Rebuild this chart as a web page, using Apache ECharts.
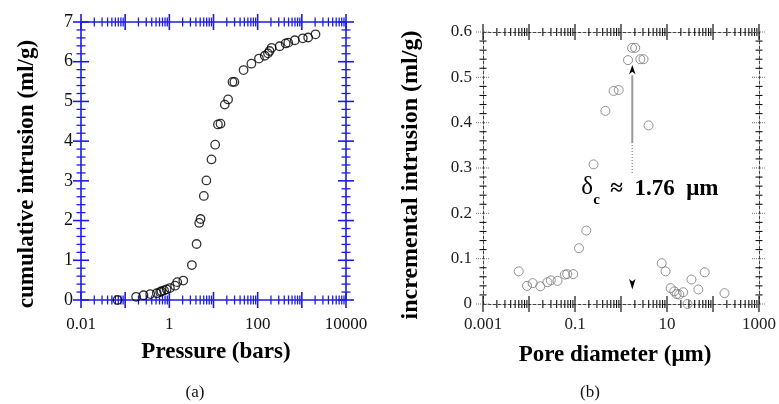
<!DOCTYPE html>
<html>
<head>
<meta charset="utf-8">
<script src="https://cdn.jsdelivr.net/npm/echarts@6/dist/echarts.min.js"></script>
<style>
html,body{margin:0;padding:0;background:#fff;}
#c{width:779px;height:404px;}
</style>
</head>
<body>
<div id="c"></div>
<script>
// ---------- data ----------
const pressure = [0.067, 0.177, 0.26, 0.37, 0.52, 0.62, 0.66, 0.76, 0.87, 1.03, 1.35, 1.51, 2.07, 3.24, 4.14, 4.75, 5.09, 6.04, 6.9, 9.0, 10.9, 12.6, 14.4, 18.0, 21.4, 26.9, 29.7, 48, 72, 107, 145, 171, 186, 207, 315, 430, 493, 694, 1050, 1390, 2040];
const cumIntrusion = [0.0, 0.08, 0.12, 0.15, 0.17, 0.2, 0.22, 0.24, 0.27, 0.30, 0.36, 0.45, 0.49, 0.88, 1.41, 1.94, 2.04, 2.62, 3.01, 3.54, 3.91, 4.42, 4.44, 4.92, 5.05, 5.49, 5.49, 5.79, 5.95, 6.08, 6.15, 6.21, 6.27, 6.35, 6.39, 6.46, 6.48, 6.54, 6.59, 6.61, 6.69];
const poreDiameter = [0.00598, 0.00906, 0.0120, 0.0176, 0.0252, 0.0298, 0.0417, 0.0605, 0.0678, 0.0916, 0.122, 0.176, 0.253, 0.458, 0.69, 0.89, 1.42, 1.74, 2.04, 2.63, 3.09, 3.97, 7.67, 9.3, 12.0, 14.4, 16.2, 18.5, 22.5, 28, 34, 48, 66, 178];
const incIntrusion = [0.072, 0.040, 0.046, 0.039, 0.048, 0.052, 0.051, 0.065, 0.066, 0.066, 0.123, 0.162, 0.308, 0.426, 0.470, 0.472, 0.538, 0.565, 0.565, 0.540, 0.540, 0.394, 0.090, 0.072, 0.035, 0.028, 0.022, 0.021, 0.026, 0.0, 0.054, 0.032, 0.070, 0.024];

const leftXDecades = [0.01, 0.1, 1, 10, 100, 1000, 10000];
const leftXLabels = ['0.01', '1', '100', '10000'];
const rightXDecades = [0.001, 0.01, 0.1, 1, 10, 100, 1000];
const rightXLabels = ['0.001', '0.1', '10', '1000'];
const minorMultipliers = [2, 3, 4, 5, 6, 7, 8, 9];
const leftYMajor = [0, 1, 2, 3, 4, 5, 6, 7];
const leftYMinorStep = 0.2;
const rightYMajor = [0, 0.1, 0.2, 0.3, 0.4, 0.5, 0.6];
const rightYMinorStep = 0.02;

const criticalDiameter = 1.76;
const arrowRange = [0.289, 0.355, 0.509, 0.527]; // dotted start, solid start, head base, head tip
const downArrow = [0.055, 0.032];               // head top, head tip
const annotLabelY = 0.23;

// ---------- tick specs ----------
function tickData(xDec, yMajor, yStep, yMin, yMax, xRef) {
  const d = [];
  xDec.forEach(v => d.push([v, yMin, 0]));
  xDec.slice(0, -1).forEach(v => minorMultipliers.forEach(m => d.push([v * m, yMin, 1])));
  yMajor.forEach(v => d.push([xRef, v, 2]));
  const n = Math.round((yMax - yMin) / yStep);
  for (let i = 0; i <= n; i++) {
    const v = +(yMin + i * yStep).toFixed(6);
    if (!yMajor.some(m => Math.abs(m - v) < 1e-9)) d.push([xRef, v, 3]);
  }
  return d;
}

function tickRenderer(styles) {
  return function (params, api) {
    const cs = params.coordSys;
    const kind = api.value(2);
    const p = api.coord([api.value(0), api.value(1)]);
    const st = styles[kind];
    const L = st.len;
    const s = {stroke: st.color, lineWidth: st.width, lineDash: st.dash || null};
    if (kind < 2) {
      const x = p[0];
      const yb = cs.y + cs.height, yt = cs.y;
      return {type: 'group', children: [
        {type: 'line', shape: {x1: x, y1: yb - L, x2: x, y2: yb + L}, style: s},
        {type: 'line', shape: {x1: x, y1: yt - L, x2: x, y2: yt + L}, style: s}
      ]};
    } else {
      const y = p[1];
      const xl = cs.x, xr = cs.x + cs.width;
      return {type: 'group', children: [
        {type: 'line', shape: {x1: xl - L, y1: y, x2: xl + L, y2: y}, style: s},
        {type: 'line', shape: {x1: xr - L, y1: y, x2: xr + L, y2: y}, style: s}
      ]};
    }
  };
}

const BLUE = '#1c1ce8';
const SERIF = '"Liberation Serif", "DejaVu Serif", serif';

function labelFormatter(list) {
  return function (v) {
    const s = String(+(+v).toPrecision(3));
    return list.indexOf(s) >= 0 ? s : '';
  };
}

const chart = echarts.init(document.getElementById('c'), null, {renderer: 'canvas'});

const blueLine = {show: true, onZero: false, lineStyle: {color: BLUE, width: 1.6}};
const greyLine = {show: true, onZero: false, lineStyle: {color: '#444', width: 1, type: [3, 2]}};

const option = {
  backgroundColor: '#fff',
  animation: false,
  grid: [
    {left: 81, top: 22, width: 265, height: 278},
    {left: 483, top: 32, width: 279, height: 272}
  ],
  xAxis: [
    {gridIndex: 0, type: 'log', logBase: 10, min: 0.01, max: 10000, position: 'bottom',
      axisLine: blueLine, axisTick: {show: false}, splitLine: {show: false},
      axisLabel: {interval: 0, margin: 16, formatter: labelFormatter(leftXLabels), color: '#111', fontSize: 17, fontFamily: SERIF}},
    {gridIndex: 0, type: 'log', logBase: 10, min: 0.01, max: 10000, position: 'top',
      axisLine: blueLine, axisTick: {show: false}, splitLine: {show: false}, axisLabel: {show: false}},
    {gridIndex: 1, type: 'log', logBase: 10, min: 0.001, max: 1000, position: 'bottom',
      axisLine: greyLine, axisTick: {show: false}, splitLine: {show: false},
      axisLabel: {interval: 0, margin: 12, formatter: labelFormatter(rightXLabels), color: '#222', fontSize: 17, fontFamily: SERIF}},
    {gridIndex: 1, type: 'log', logBase: 10, min: 0.001, max: 1000, position: 'top',
      axisLine: greyLine, axisTick: {show: false}, splitLine: {show: false}, axisLabel: {show: false}}
  ],
  yAxis: [
    {gridIndex: 0, type: 'value', min: 0, max: 7, interval: 1, position: 'left',
      axisLine: blueLine, axisTick: {show: false}, splitLine: {show: false},
      axisLabel: {margin: 8, color: '#111', fontSize: 18, fontFamily: SERIF}},
    {gridIndex: 0, type: 'value', min: 0, max: 7, interval: 1, position: 'right',
      axisLine: blueLine, axisTick: {show: false}, splitLine: {show: false}, axisLabel: {show: false}},
    {gridIndex: 1, type: 'value', min: 0, max: 0.6, interval: 0.1, position: 'left',
      axisLine: greyLine, axisTick: {show: false}, splitLine: {show: false},
      axisLabel: {margin: 11, color: '#222', fontSize: 17, fontFamily: SERIF}},
    {gridIndex: 1, type: 'value', min: 0, max: 0.6, interval: 0.1, position: 'right',
      axisLine: greyLine, axisTick: {show: false}, splitLine: {show: false}, axisLabel: {show: false}}
  ],
  series: [
    {type: 'custom', xAxisIndex: 0, yAxisIndex: 0, clip: false, silent: true, z: 3,
      data: tickData(leftXDecades, leftYMajor, leftYMinorStep, 0, 7, 1),
      encode: {x: 0, y: 1},
      renderItem: tickRenderer([
        {len: 8, color: BLUE, width: 1.6},
        {len: 4.5, color: BLUE, width: 1.3},
        {len: 8, color: BLUE, width: 1.6},
        {len: 4.5, color: BLUE, width: 1.3}
      ])},
    {type: 'custom', xAxisIndex: 2, yAxisIndex: 2, clip: false, silent: true, z: 3,
      data: tickData(rightXDecades, rightYMajor, rightYMinorStep, 0, 0.6, 1),
      encode: {x: 0, y: 1},
      renderItem: tickRenderer([
        {len: 8, color: '#111', width: 1.2},
        {len: 4, color: '#111', width: 1.1},
        {len: 7, color: '#777', width: 1, dash: [1, 1]},
        {len: 3.5, color: '#111', width: 1.1}
      ])},
    {type: 'scatter', xAxisIndex: 0, yAxisIndex: 0, symbol: 'circle', symbolSize: 8.5, z: 4,
      data: pressure.map((p, i) => [p, cumIntrusion[i]]),
      itemStyle: {color: 'rgba(0,0,0,0)', borderColor: '#000', borderWidth: 1.3}},
    {type: 'scatter', xAxisIndex: 2, yAxisIndex: 2, symbol: 'circle', symbolSize: 9, z: 4,
      data: poreDiameter.map((p, i) => [p, incIntrusion[i]]),
      itemStyle: {color: 'rgba(0,0,0,0)', borderColor: '#777', borderWidth: 1}},
    {type: 'custom', xAxisIndex: 2, yAxisIndex: 2, clip: false, silent: true, z: 5,
      data: [[criticalDiameter, annotLabelY]],
      encode: {x: 0, y: 1},
      renderItem: function (params, api) {
        const xv = api.value(0);
        const x = api.coord([xv, 0.3])[0];
        const Y = v => api.coord([xv, v])[1];
        const lab = api.coord([xv, api.value(1)]);
        const yTip = Y(arrowRange[3]), yBase = Y(arrowRange[2]);
        const dTop = Y(downArrow[0]), dTip = Y(downArrow[1]);
        return {type: 'group', children: [
          {type: 'line', shape: {x1: x, y1: Y(arrowRange[0]), x2: x, y2: Y(arrowRange[1])}, style: {stroke: '#999', lineWidth: 1.5, lineDash: [1, 2]}},
          {type: 'line', shape: {x1: x, y1: Y(arrowRange[1]), x2: x, y2: yBase + 2}, style: {stroke: '#999', lineWidth: 2}},
          {type: 'polygon', shape: {points: [[x, yTip], [x - 3.2, yBase + 1], [x, yBase - 1.5], [x + 3.2, yBase + 1]]}, style: {fill: '#000'}},
          {type: 'polygon', shape: {points: [[x, dTip], [x - 3.2, dTop], [x, dTop + 2.5], [x + 3.2, dTop]]}, style: {fill: '#000'}},
          {type: 'text', x: lab[0] - 51, y: lab[1], style: {text: 'δ', font: '25px ' + SERIF, fill: '#000', textVerticalAlign: 'bottom', textAlign: 'left'}},
          {type: 'text', x: lab[0] - 39, y: lab[1] + 8, style: {text: 'c', font: 'bold 15px ' + SERIF, fill: '#000', textVerticalAlign: 'bottom', textAlign: 'left'}},
          {type: 'text', x: lab[0] - 22, y: lab[1] + 1, style: {text: '≈  1.76  μm', font: 'bold 23px ' + SERIF, fill: '#000', textVerticalAlign: 'bottom', textAlign: 'left'}}
        ]};
      }}
  ],
  graphic: [
    {type: 'text', x: 27, y: 174, rotation: Math.PI / 2, silent: true,
      style: {text: 'cumulative intrusion (ml/g)', font: 'bold 23px ' + SERIF, fill: '#000', textAlign: 'center', textVerticalAlign: 'middle'}},
    {type: 'text', x: 411, y: 175, rotation: Math.PI / 2, silent: true,
      style: {text: 'incremental intrusion (ml/g)', font: 'bold 24px ' + SERIF, fill: '#000', textAlign: 'center', textVerticalAlign: 'middle'}},
    {type: 'text', x: 216, y: 352, silent: true,
      style: {text: 'Pressure (bars)', font: 'bold 23px ' + SERIF, fill: '#000', textAlign: 'center', textVerticalAlign: 'middle'}},
    {type: 'text', x: 615, y: 355, silent: true,
      style: {text: 'Pore diameter (μm)', font: 'bold 23px ' + SERIF, fill: '#000', textAlign: 'center', textVerticalAlign: 'middle'}},
    {type: 'text', x: 195, y: 393, silent: true,
      style: {text: '(a)', font: '17px ' + SERIF, fill: '#111', textAlign: 'center', textVerticalAlign: 'middle'}},
    {type: 'text', x: 590, y: 393, silent: true,
      style: {text: '(b)', font: '17px ' + SERIF, fill: '#111', textAlign: 'center', textVerticalAlign: 'middle'}}
  ]
};
chart.setOption(option);
</script>
</body>
</html>
